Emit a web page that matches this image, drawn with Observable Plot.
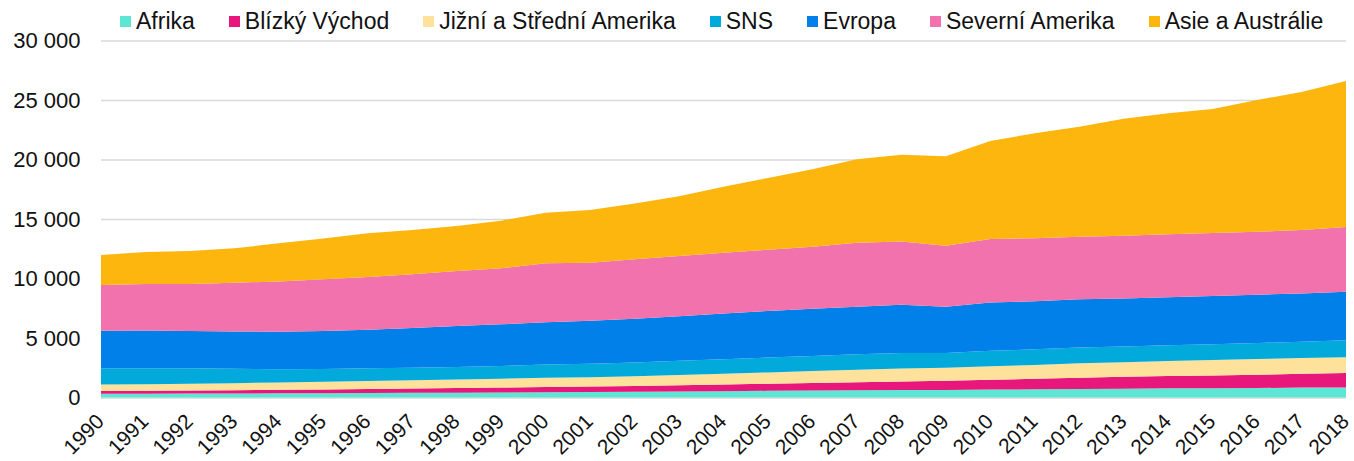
<!DOCTYPE html>
<html>
<head>
<meta charset="utf-8">
<script src="https://cdn.jsdelivr.net/npm/d3@7"></script>
<script src="https://cdn.jsdelivr.net/npm/@observablehq/plot@0.6"></script>
<style>
  body { margin: 0; background: #fff; font-family: "Liberation Sans", Arial, sans-serif; }
  #wrap { width: 1354px; height: 461px; overflow: hidden; }
  #legend { height: 24px; box-sizing: border-box; padding-top: 10px; padding-left: 120px; display: flex; align-items: flex-start; overflow: visible; position: relative; z-index: 1; }
  .item { display: flex; align-items: center; margin-right: 34px; font-size: 23px; line-height: 23px; color: #111; white-space: nowrap; }
  .sw { width: 11px; height: 11px; margin-right: 5px; }
</style>
</head>
<body>
<div id="wrap">
  <div id="legend"></div>
  <div id="chart"></div>
</div>
<script>
const years = [1990,1991,1992,1993,1994,1995,1996,1997,1998,1999,2000,2001,2002,2003,2004,2005,2006,2007,2008,2009,2010,2011,2012,2013,2014,2015,2016,2017,2018];
const regions = ["Afrika","Blízký Východ","Jižní a Střední Amerika","SNS","Evropa","Severní Amerika","Asie a Austrálie"];
const colors = ["#5ee6d4","#e8177b","#fee29c","#01aadb","#0080e8","#f272ae","#fdb60d"];

const afrika = [320,325,330,335,350,362,376,390,405,420,441,455,475,505,535,560,585,610,625,630,670,690,720,745,770,785,800,830,850];
const blizkyVychod = [235,240,260,280,300,315,335,360,385,410,435,460,490,520,555,600,635,680,730,780,830,880,950,990,1030,1070,1110,1160,1200];
const jizniAStredniAmerika = [530,550,565,590,615,640,670,700,725,750,785,790,820,860,900,950,1000,1050,1090,1100,1130,1165,1200,1230,1265,1290,1315,1330,1340];
const sns = [1370,1345,1300,1205,1105,1085,1075,1050,1050,1065,1110,1125,1160,1200,1230,1250,1270,1285,1300,1230,1290,1310,1330,1320,1330,1325,1350,1370,1420];
const evropa = [3160,3170,3135,3135,3160,3185,3245,3350,3435,3505,3550,3625,3680,3740,3840,3910,3965,4005,4050,3890,4070,4045,4050,4035,4020,4060,4065,4060,4080];
const severniAmerika = [3840,3910,3950,4100,4220,4340,4430,4500,4630,4710,4960,4870,4990,5060,5110,5150,5210,5380,5310,5130,5330,5290,5260,5280,5300,5290,5290,5330,5440];
const asieAAustralie = [2520,2690,2770,2890,3210,3440,3670,3720,3780,4000,4250,4430,4690,5030,5550,6030,6510,7010,7290,7510,8240,8820,9240,9830,10170,10420,11070,11600,12270];

const yTicks = [0,5000,10000,15000,20000,25000,30000];

const series = [afrika, blizkyVychod, jizniAStredniAmerika, sns, evropa, severniAmerika, asieAAustralie];
const data = regions.flatMap((r, i) => years.map((y, j) => ({year: y, region: r, value: series[i][j]})));

const fmt = d3.formatLocale({decimal: ",", thousands: " ", grouping: [3]}).format(",d");

// legend
const legend = document.getElementById("legend");
regions.forEach((r, i) => {
  const it = document.createElement("div");
  it.className = "item";
  const sw = document.createElement("span");
  sw.className = "sw";
  sw.style.background = colors[i];
  it.appendChild(sw);
  it.appendChild(document.createTextNode(r));
  legend.appendChild(it);
});

const chart = Plot.plot({
  width: 1354,
  height: 437,
  marginLeft: 101,
  marginRight: 8,
  marginTop: 16.5,
  marginBottom: 63.5,
  style: {fontFamily: '"Liberation Sans", Arial, sans-serif', fontSize: "22px", color: "#111", background: "transparent"},
  x: {type: "linear", domain: [1990, 2018], axis: null},
  y: {domain: [0, 30000], axis: null},
  color: {domain: regions, range: colors},
  marks: [
    Plot.ruleY(yTicks, {stroke: "#d9d9d9", strokeWidth: 1.3}),
    Plot.areaY(data, {x: "year", y: "value", z: "region", fill: "region", order: regions}),
    Plot.axisY({ticks: yTicks, tickSize: 0, tickPadding: 21, tickFormat: fmt, fontSize: 22, label: null}),
    Plot.text(years, {x: d => d, frameAnchor: "bottom", rotate: -45, textAnchor: "end", lineAnchor: "middle", dy: 20, dx: -1, fontSize: 21, fill: "#111", text: d => String(d)})
  ]
});
document.getElementById("chart").appendChild(chart);
</script>
</body>
</html>
